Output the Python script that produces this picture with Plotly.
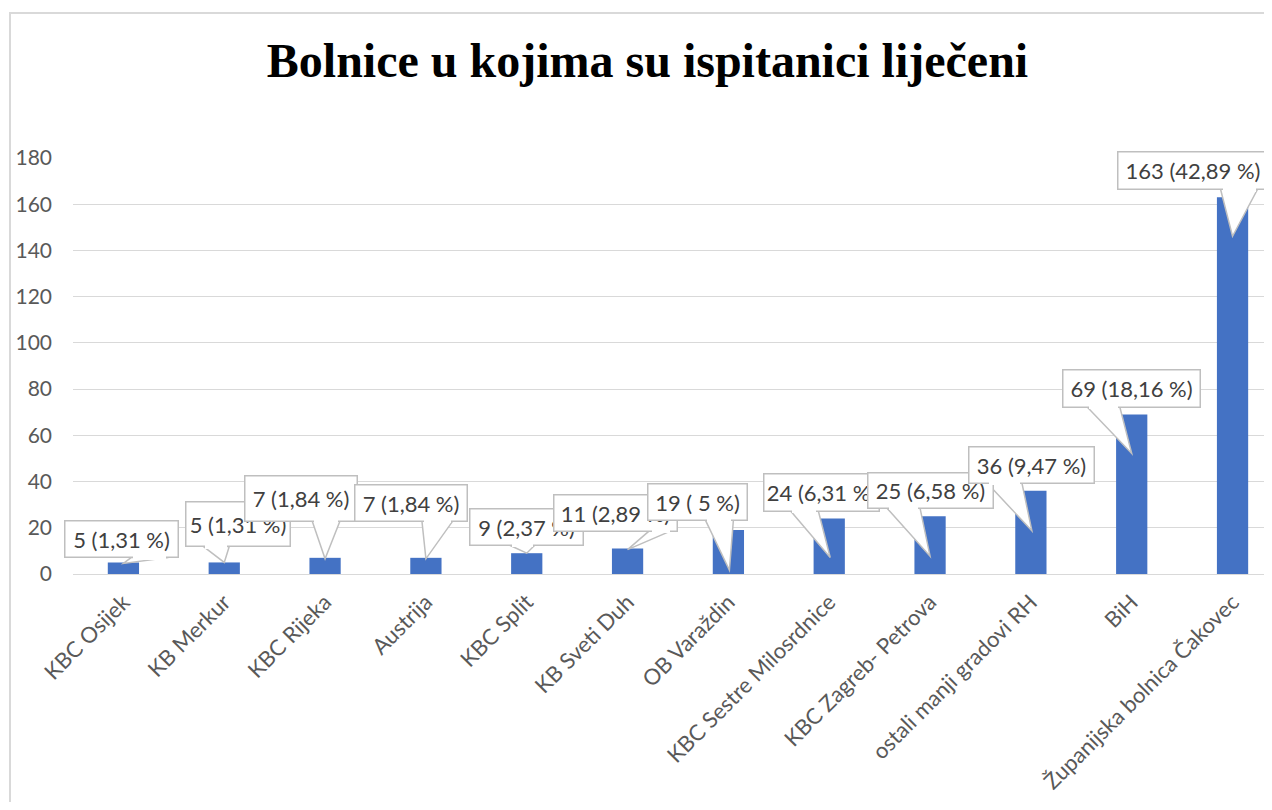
import plotly.graph_objects as go

# data
categories = ["KBC Osijek", "KB Merkur", "KBC Rijeka", "Austrija", "KBC Split",
              "KB Sveti Duh", "OB Varaždin", "KBC Sestre Milosrdnice",
              "KBC Zagreb- Petrova", "ostali manji gradovi RH", "BiH",
              "Županijska bolnica Čakovec"]
counts = [5, 5, 7, 7, 9, 11, 19, 24, 25, 36, 69, 163]
percents = ["1,31", "1,31", "1,84", "1,84", "2,37", "2,89", " 5", "6,31",
            "6,58", "9,47", "18,16", "42,89"]
y_ticks = [0, 20, 40, 60, 80, 100, 120, 140, 160, 180]

# callout layout in px, relative to the top centre of each bar:
# box left, right, top, bottom, wedge base left, right, tip dx, tip dy
callouts = [
    (-59, 56, -42, -4, 8, 45, 0, 1),
    (-39, 67, -61, -15, -21, 5, 0, 0),
    (-81, 33, -83, -36, -13, 15, 0, 1),
    (-72, 42, -74, -36, -4, 27, 0, 1),
    (-58, 57, -45, -7, -17, 8, 0, 0),
    (-75, 50, -55, -17, 22, 44, 0, 1),
    (-81, 20, -47, -9, -23, 5, 1, 40),
    (-66, 51, -46, -7, -39, -11, 1, 39),
    (-63, 64, -44, -7, -43, -10, 0, 40),
    (-63, 64, -45, -7, -44, -9, 1, 40),
    (-70, 69, -46, -7, -45, -12, 0, 39),
    (-116, 36, -46, -7, -12, 25, 0, 39),
]

OFF = 8  # page body margin, kept on every side so no scrollbars appear
W, H = 1272 - 2 * OFF, 810 - 2 * OFF
ML, MT, MB = 73 - OFF, 158 - OFF, 236 - OFF
PW = W - ML
PH = H - MT - MB
PX_CAT = 100.83
PX_UNIT = PH / 180.0
x_max = -0.5 + PW / PX_CAT

FONT = "Lato"
BOX_LINE = "#BFBFBF"
BW = 1.5

fig = go.Figure()
fig.add_trace(go.Bar(
    x=list(range(len(categories))), y=counts, width=0.31,
    marker=dict(color="#4472C4", line=dict(width=0)),
    hoverinfo="skip",
))

shapes = []
annotations = []
for i, (v, p, c) in enumerate(zip(counts, percents, callouts)):
    bl, br, bt, bb, wl, wr, tx, ty = c
    # wedge pointing to the bar
    yb = v - (bb - 1) / PX_UNIT
    path = "M {},{} L {},{} L {},{} Z".format(
        i + wl / PX_CAT, yb,
        i + tx / PX_CAT, v - ty / PX_UNIT,
        i + wr / PX_CAT, yb)
    shapes.append(dict(type="path", path=path, xref="x", yref="y",
                       fillcolor="white", line=dict(color=BOX_LINE, width=BW),
                       layer="above"))
    # box with text
    annotations.append(dict(
        x=i + (bl + br) / 2 / PX_CAT, y=v - (bt + bb) / 2 / PX_UNIT,
        xref="x", yref="y", showarrow=False,
        text="{} ({} %)".format(v, p),
        font=dict(family=FONT, size=22, color="#404040"),
        width=br - bl - 2 * BW, height=bb - bt - 2 * BW,
        bgcolor="white", bordercolor=BOX_LINE, borderwidth=BW, borderpad=0,
        xanchor="center", yanchor="middle", align="center", valign="middle",
    ))
    # hide the box border where the wedge joins it
    annotations.append(dict(
        x=i + (wl + wr) / 2 / PX_CAT, y=v - (bb - 0.75) / PX_UNIT,
        xref="x", yref="y", showarrow=False, text=" ",
        font=dict(size=1), width=max(wr - wl - 4, 1), height=4,
        bgcolor="white", borderwidth=0, borderpad=0,
        xanchor="center", yanchor="middle",
    ))

# chart frame
shapes.append(dict(type="rect", xref="paper", yref="paper",
                   x0=(10 - OFF - ML) / PW, x1=1.2,
                   y0=-1, y1=(H - MB - (13 - OFF)) / PH,
                   line=dict(color="#D9D9D9", width=2),
                   fillcolor="rgba(0,0,0,0)", layer="above"))

fig.update_layout(
    width=W, height=H,
    margin=dict(l=ML, r=0, t=MT, b=MB, pad=0),
    paper_bgcolor="white", plot_bgcolor="white",
    showlegend=False,
    title=dict(text="<b>Bolnice u kojima su ispitanici liječeni</b>",
               x=(647.5 - OFF) / W, xref="container", xanchor="center",
               y=1 - (60 - OFF) / H, yref="container", yanchor="middle",
               font=dict(family="Liberation Serif", size=48, color="black")),
    shapes=shapes,
    annotations=annotations,
)
fig.update_xaxes(
    range=[-0.5, x_max], tickmode="array",
    tickvals=list(range(len(categories))), ticktext=categories,
    tickangle=-45, showgrid=False, zeroline=False, showline=False, ticks="",
    tickfont=dict(family=FONT, size=22, color="#595959"),
    ticklabelstandoff=10,
)
fig.update_yaxes(
    range=[0, 180], tickmode="array", tickvals=y_ticks,
    showgrid=True, gridcolor="#D9D9D9", gridwidth=1,
    zeroline=True, zerolinecolor="#D9D9D9", zerolinewidth=1,
    showline=False, ticks="",
    tickfont=dict(family=FONT, size=21, color="#595959"),
    ticklabelstandoff=20,
)

fig.write_html("out.html", config={"displayModeBar": False})
